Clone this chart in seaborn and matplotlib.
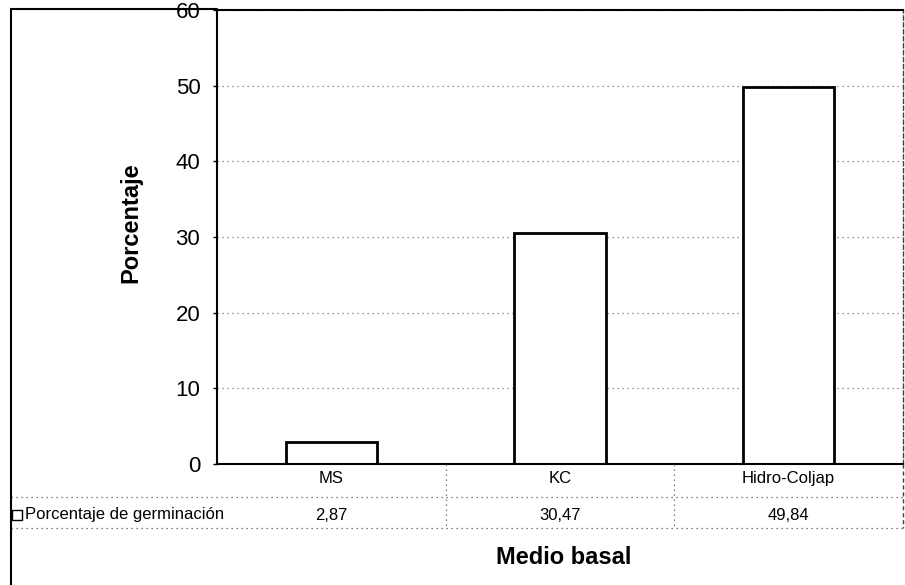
import matplotlib
matplotlib.use('Agg')
import matplotlib.pyplot as plt
import matplotlib.transforms as mtransforms
import seaborn as sns
import pandas as pd
from matplotlib.lines import Line2D
from matplotlib.patches import Rectangle

# ---- data ----
categories = ["MS", "KC", "Hidro-Coljap"]
germinacion = [2.87, 30.47, 49.84]
series_name = "Porcentaje de germinación"
y_ticks = [0, 10, 20, 30, 40, 50, 60]
x_title = "Medio basal"
y_title = "Porcentaje"

sns.set_theme(style="white")
plt.rcParams['font.family'] = ['Liberation Sans', 'DejaVu Sans']

W, H = 905, 585
fig = plt.figure(figsize=(W / 100, H / 100), dpi=100)
fig.patch.set_facecolor("white")


def fx(x):
    return x / W


def fy(y):
    return 1 - y / H


ax = fig.add_axes([fx(217), fy(464), fx(903) - fx(217), fy(10) - fy(464)])
ax.set_facecolor("white")

df = pd.DataFrame({"cat": categories, "val": germinacion})
sns.barplot(data=df, x="cat", y="val", order=categories, color="white",
            saturation=1, edgecolor="black", linewidth=2, width=0.4, ax=ax)

ax.set_xlim(-0.5, len(categories) - 0.5)
ax.set_ylim(0, 60)
ax.set_yticks(y_ticks)
ax.tick_params(axis='y', labelsize=16, length=3, width=1, direction='out',
               pad=9, color='black', left=True, labelcolor='black')
ax.tick_params(axis='x', labelsize=12, length=0, pad=5, labelcolor='black')
ax.set_xlabel("")
ax.set_ylabel("")
ax.yaxis.grid(True, linestyle=(0, (1, 3)), color='#777777', linewidth=0.9)
ax.xaxis.grid(False)
ax.set_axisbelow(True)
for s in ['left', 'top', 'bottom']:
    ax.spines[s].set_visible(True)
    ax.spines[s].set_color('black')
    ax.spines[s].set_linewidth(1.5)
ax.spines['right'].set_visible(True)
ax.spines['right'].set_color('#444444')
ax.spines['right'].set_linewidth(1.0)
ax.spines['right'].set_linestyle((0, (3, 2)))

# ---- data table ----
blend = mtransforms.blended_transform_factory(ax.transData, fig.transFigure)
for i, v in enumerate(germinacion):
    ax.text(i, fy(515), f"{v:.2f}".replace('.', ','), transform=blend,
            ha='center', va='center', fontsize=12, color='black', clip_on=False)

for yy in (497, 528):
    fig.add_artist(Line2D([fx(11), fx(903)], [fy(yy), fy(yy)],
                          transform=fig.transFigure, color='#555555',
                          linewidth=0.9, linestyle=(0, (1, 3))))
for b in range(len(categories) - 1):
    fig.add_artist(Line2D([b + 0.5, b + 0.5], [fy(464), fy(528)],
                          transform=blend, color='#555555',
                          linewidth=0.9, linestyle=(0, (1, 3))))
# right border continued
fig.add_artist(Line2D([fx(903), fx(903)], [fy(464), fy(528)],
                      transform=fig.transFigure, color='#444444',
                      linewidth=1.0, linestyle=(0, (3, 2))))

# legend key
fig.add_artist(Rectangle((fx(12), fy(520)), fx(10), 10 / H,
                         transform=fig.transFigure, facecolor='white',
                         edgecolor='black', linewidth=1.0))
fig.text(fx(25), fy(515), series_name, ha='left', va='center', fontsize=12,
         color='black')

# outer chart border (left and top)
fig.add_artist(Line2D([fx(11), fx(11)], [fy(9), fy(585)],
                      transform=fig.transFigure, color='black', linewidth=1.5))
fig.add_artist(Line2D([fx(11), fx(217)], [fy(9), fy(9)],
                      transform=fig.transFigure, color='black', linewidth=1.5))

# axis titles
fig.text(fx(564), fy(557), x_title, ha='center', va='center', fontsize=17,
         fontweight='bold', color='black')
fig.text(fx(131), fy(223), y_title, ha='center', va='center', fontsize=17,
         fontweight='bold', color='black', rotation=90)

fig.savefig("out.png", dpi=100, facecolor='white')
